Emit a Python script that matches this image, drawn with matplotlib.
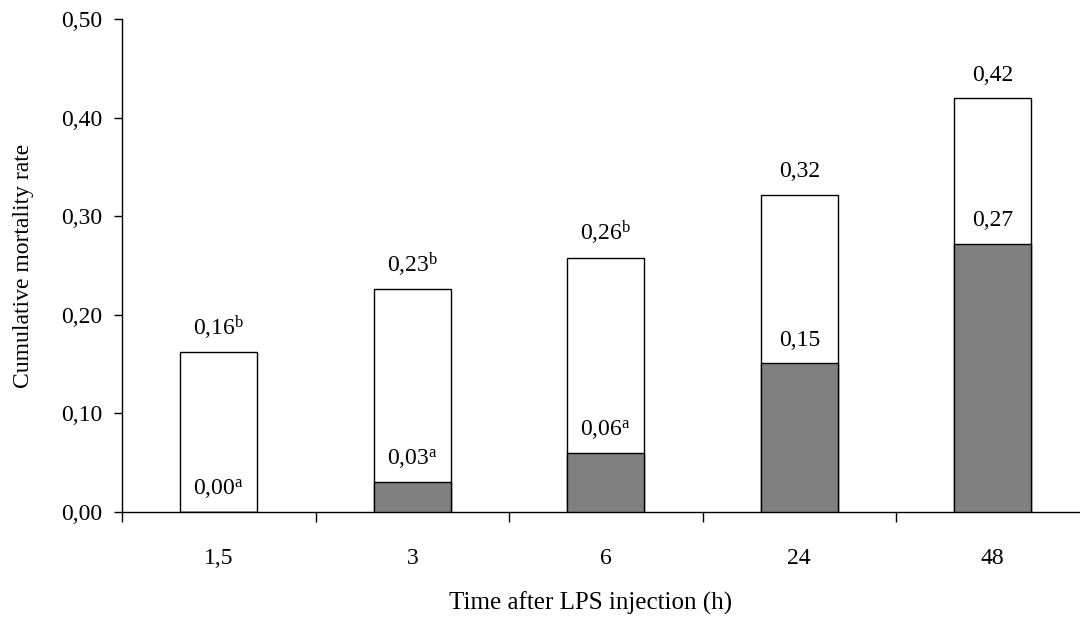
import matplotlib
matplotlib.use("Agg")
import matplotlib.pyplot as plt

plt.rcParams['font.family'] = ['Liberation Serif', 'DejaVu Serif']
plt.rcParams['mathtext.fontset'] = 'custom'
plt.rcParams['mathtext.rm'] = 'Liberation Serif'
plt.rcParams['mathtext.it'] = 'Liberation Serif:italic'

# data
times = ['1,5', '3', '6', '24', '48']
total = [0.162, 0.226, 0.258, 0.322, 0.42]
partial = [0.0, 0.03, 0.06, 0.151, 0.272]
total_lbl = ['0,16', '0,23', '0,26', '0,32', '0,42']
total_sup = ['b', 'b', 'b', '', '']
partial_lbl = ['0,00', '0,03', '0,06', '0,15', '0,27']
partial_sup = ['a', 'a', 'a', '', '']

fig = plt.figure(figsize=(10.8, 6.2), dpi=100)
ax = fig.add_axes([122/1080, 1 - 512/620, 1 - 122/1080, (512 - 19)/620])

pos = [i + 0.5 for i in range(len(times))]
w = 0.40
ax.bar(pos, total, width=w, color='white', edgecolor='black', linewidth=1.0, zorder=2)
ax.bar(pos, partial, width=w, color='#808080', edgecolor='black', linewidth=1.0, zorder=3)

def lab(t, s):
    if s:
        return t + r'$^{\mathrm{' + s + '}}$'
    return t

for x, h, t, s in zip(pos, total, total_lbl, total_sup):
    ax.annotate(lab(t, s), (x, h), xytext=(0, 12.5), textcoords='offset points',
                ha='center', va='baseline', fontsize=17)
for x, h, t, s in zip(pos, partial, partial_lbl, partial_sup):
    ax.annotate(lab(t, s), (x, h), xytext=(0, 12.5), textcoords='offset points',
                ha='center', va='baseline', fontsize=17, zorder=4)

ax.set_xlim(0, (1080 - 122) / 193.5)
ax.set_ylim(0, 0.5)
ax.set_yticks([0, 0.1, 0.2, 0.3, 0.4, 0.5])
ax.set_yticklabels(['0,00', '0,10', '0,20', '0,30', '0,40', '0,50'], fontsize=17)
ax.tick_params(axis='y', direction='out', length=6, width=1.0, pad=8)

ax.set_xticks(range(len(times)))
ax.set_xticklabels([])
ax.tick_params(axis='x', which='major', direction='out', length=7, width=1.0)
ax.set_xticks(pos, minor=True)
ax.set_xticklabels(times, minor=True, fontsize=17)
ax.tick_params(axis='x', which='minor', length=0, pad=26)

for s in ['top', 'right']:
    ax.spines[s].set_visible(False)
ax.spines['left'].set_linewidth(1.0)
ax.spines['bottom'].set_linewidth(1.0)

ax.set_ylabel('Cumulative mortality rate', fontsize=17)
ax.yaxis.set_label_coords(-(122 - 34) / 958, 0.5)
fig.text(591/1080, 1 - 603/620, 'Time after LPS injection (h)', ha='center', va='center', fontsize=18)

plt.savefig('out.png', dpi=100)
